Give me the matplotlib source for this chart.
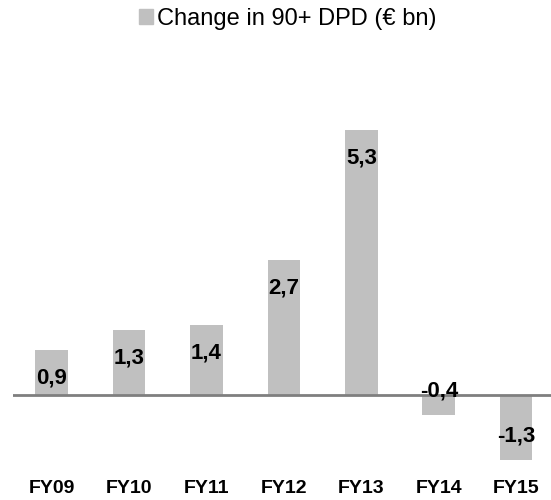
import matplotlib.pyplot as plt
from matplotlib.patches import Patch

years = ['FY09', 'FY10', 'FY11', 'FY12', 'FY13', 'FY14', 'FY15']
change_dpd = [0.9, 1.3, 1.4, 2.7, 5.3, -0.4, -1.3]
labels = ['0,9', '1,3', '1,4', '2,7', '5,3', '-0,4', '-1,3']

plt.rcParams['font.family'] = ['Liberation Sans', 'DejaVu Sans']

fig = plt.figure(figsize=(5.51, 5.0), dpi=100)
ax = fig.add_axes([13/551, 0.06, 538/551, 0.82])

x = range(len(years))
ax.bar(x, change_dpd, width=0.42, color='#c0c0c0', zorder=1)
ax.axhline(0, color='#7f7f7f', lw=2, zorder=2)

for i, (v, t) in enumerate(zip(change_dpd, labels)):
    off = -20 if v > 0 else 17
    ax.annotate(t, (i, v), xytext=(0, off), textcoords='offset points',
                ha='center', va='center', fontsize=16, fontweight='bold', zorder=3)

ax.set_xlim(-0.5, 6.45)
ax.set_ylim(-1.5, 6.7)
ax.set_xticks(list(x))
ax.set_xticklabels(years, fontsize=14, fontweight='bold')
ax.tick_params(axis='x', length=0, pad=7)
ax.set_yticks([])
for s in ax.spines.values():
    s.set_visible(False)

fig.legend(handles=[Patch(color='#c0c0c0', label='Change in 90+ DPD (€ bn)')],
           loc='center', bbox_to_anchor=(0.522, 0.962), frameon=False, fontsize=17,
           handlelength=0.6, handleheight=0.6, handletextpad=0.15)

fig.savefig('out.png', dpi=100)
